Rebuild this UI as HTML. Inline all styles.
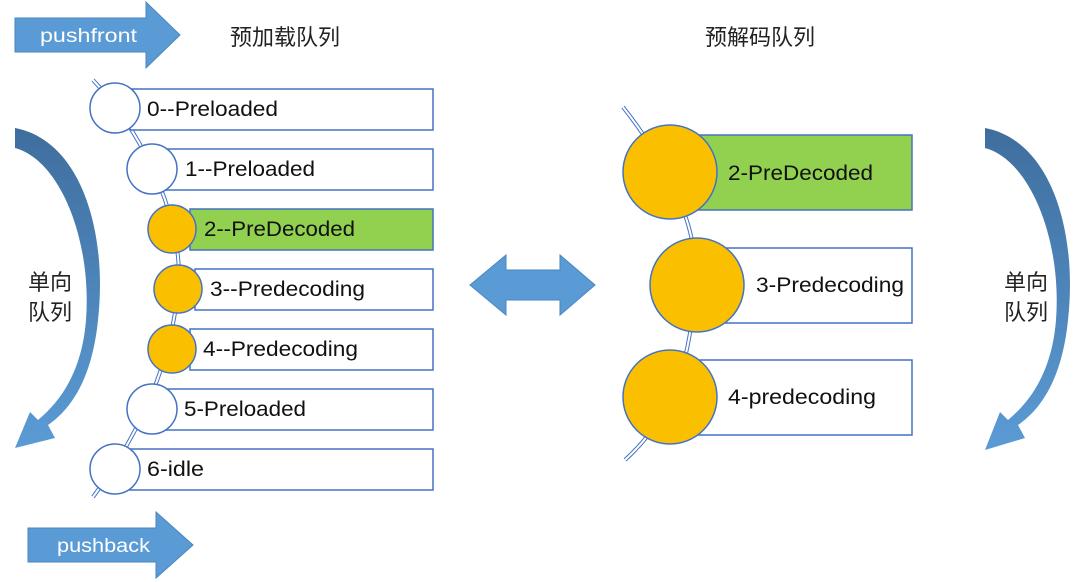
<!DOCTYPE html>
<html><head><meta charset="utf-8"><style>
html,body{margin:0;padding:0;background:#fff;}
svg{display:block;}
text{font-family:"Liberation Sans","Noto Sans CJK SC",sans-serif;}
</style></head><body>
<svg width="1080" height="582" viewBox="0 0 1080 582" xmlns="http://www.w3.org/2000/svg">
<defs>
<linearGradient id="g1" x1="0" y1="0" x2="0" y2="1">
<stop offset="0" stop-color="#3f6e9e"/><stop offset="1" stop-color="#5b9bd5"/></linearGradient>
</defs>
<polygon points="15,18 146,18 146,2 180,35 146,68 146,52 15,52" fill="#5b9bd5" stroke="#4a86c0"/>
<text x="40" y="42" font-size="19" fill="#fff" textLength="97" lengthAdjust="spacingAndGlyphs">pushfront</text>
<polygon points="28,528 156,528 156,512 193,545 156,578 156,562 28,562" fill="#5b9bd5" stroke="#4a86c0"/>
<text x="57" y="552" font-size="19" fill="#fff" textLength="93" lengthAdjust="spacingAndGlyphs">pushback</text>
<text x="285" y="45" font-size="22" fill="#222" text-anchor="middle">预加载队列</text>
<text x="760" y="45" font-size="22" fill="#222" text-anchor="middle">预解码队列</text>
<path d="M15,128 C80,140 108,230 98,320 C92,380 70,410 48,425 L55,438 L15,448 L30,412 L38,420 C62,400 82,370 86,320 C92,240 60,160 15,148 Z" fill="url(#g1)"/>
<text x="50" y="290" font-size="22" fill="#222" text-anchor="middle">单向</text>
<text x="50" y="320" font-size="22" fill="#222" text-anchor="middle">队列</text>
<path d="M985,128 C1050,140 1078,230 1068,320 C1062,380 1040,410 1018,425 L1025,438 L985,450 L1000,412 L1008,420 C1032,400 1052,370 1056,320 C1062,240 1030,160 985,148 Z" fill="url(#g1)"/>
<text x="1026" y="290" font-size="22" fill="#222" text-anchor="middle">单向</text>
<text x="1026" y="320" font-size="22" fill="#222" text-anchor="middle">队列</text>
<polygon points="470,285 506,255 506,270 560,270 560,255 595,285 560,315 560,300 506,300 506,315" fill="#5b9bd5" stroke="#4a86c0"/>
<path d="M93,80 C150,140 185,230 178,290 C172,350 150,420 93,497" fill="none" stroke="#4472c4" stroke-width="4"/>
<path d="M93,80 C150,140 185,230 178,290 C172,350 150,420 93,497" fill="none" stroke="#fff" stroke-width="2"/>
<g stroke="#4472c4" stroke-width="1.5" fill="#fff">
<rect x="130" y="89" width="303" height="41"/>
<rect x="165" y="149" width="268" height="41"/>
<rect x="190" y="209" width="243" height="41" fill="#92d050"/>
<rect x="195" y="269" width="238" height="41"/>
<rect x="190" y="329" width="243" height="41"/>
<rect x="165" y="389" width="268" height="41"/>
<rect x="130" y="449" width="303" height="41"/>
<circle cx="115" cy="108" r="25"/>
<circle cx="152" cy="169" r="25"/>
<circle cx="172" cy="229" r="24" fill="#fac000"/>
<circle cx="178" cy="289" r="24" fill="#fac000"/>
<circle cx="172" cy="349" r="24" fill="#fac000"/>
<circle cx="152" cy="409" r="25"/>
<circle cx="115" cy="469" r="25"/>
</g>
<g font-size="21" fill="#111">
<text x="147" y="116" textLength="131" lengthAdjust="spacingAndGlyphs">0--Preloaded</text>
<text x="185" y="176" textLength="130" lengthAdjust="spacingAndGlyphs">1--Preloaded</text>
<text x="204" y="236" textLength="151" lengthAdjust="spacingAndGlyphs">2--PreDecoded</text>
<text x="210" y="296" textLength="155" lengthAdjust="spacingAndGlyphs">3--Predecoding</text>
<text x="203" y="356" textLength="155" lengthAdjust="spacingAndGlyphs">4--Predecoding</text>
<text x="184" y="416" textLength="122" lengthAdjust="spacingAndGlyphs">5-Preloaded</text>
<text x="147" y="476" textLength="57" lengthAdjust="spacingAndGlyphs">6-idle</text>
</g>
<path d="M623,107 C680,180 700,240 695,290 C690,350 680,410 625,460" fill="none" stroke="#4472c4" stroke-width="4"/>
<path d="M623,107 C680,180 700,240 695,290 C690,350 680,410 625,460" fill="none" stroke="#fff" stroke-width="2"/>
<g stroke="#4472c4" stroke-width="1.5">
<rect x="690" y="135" width="222" height="75" fill="#92d050"/>
<rect x="720" y="248" width="192" height="75" fill="#fff"/>
<rect x="690" y="360" width="222" height="75" fill="#fff"/>
<circle cx="670" cy="172" r="47" fill="#fac000"/>
<circle cx="697" cy="285" r="47" fill="#fac000"/>
<circle cx="670" cy="397" r="47" fill="#fac000"/>
</g>
<g font-size="21" fill="#111">
<text x="728" y="180" textLength="145" lengthAdjust="spacingAndGlyphs">2-PreDecoded</text>
<text x="756" y="292" textLength="148" lengthAdjust="spacingAndGlyphs">3-Predecoding</text>
<text x="728" y="404" textLength="148" lengthAdjust="spacingAndGlyphs">4-predecoding</text>
</g>
</svg>
</body></html>
